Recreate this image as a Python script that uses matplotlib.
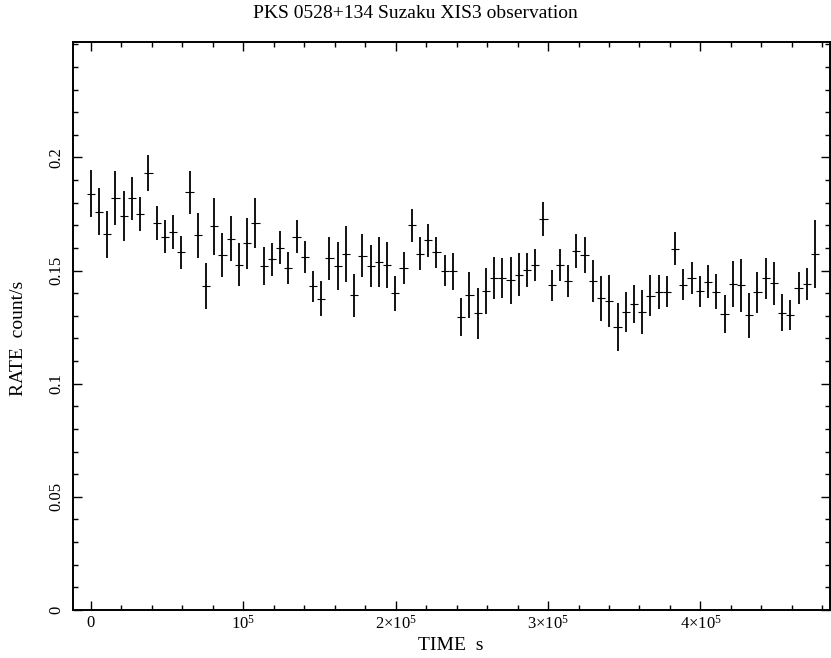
import numpy as np
import matplotlib
matplotlib.use("Agg")
import matplotlib.pyplot as plt
from matplotlib.ticker import MultipleLocator

plt.rcParams["font.family"] = ["Liberation Serif", "DejaVu Serif"]
plt.rcParams["mathtext.fontset"] = "custom"
plt.rcParams["mathtext.rm"] = "Liberation Serif"
plt.rcParams["mathtext.it"] = "Liberation Serif:italic"

# light curve bins (s), rate and 1-sigma error (count/s)
time = [
    0, 5400, 10800, 16200, 21600, 27000, 32400, 37800, 43200, 48600,
    54000, 59400, 64800, 70200, 75600, 81000, 86400, 91800, 97200, 102600,
    108000, 113400, 118800, 124200, 129600, 135000, 140400, 145800, 151200, 156600,
    162000, 167400, 172800, 178200, 183600, 189000, 194400, 199800, 205200, 210600,
    216000, 221400, 226800, 232200, 237600, 243000, 248400, 253800, 259200, 264600,
    270000, 275400, 280800, 286200, 291600, 297000, 302400, 307800, 313200, 318600,
    324000, 329400, 334800, 340200, 345600, 351000, 356400, 361800, 367200, 372600,
    378000, 383400, 388800, 394200, 399600, 405000, 410400, 415800, 421200, 426600,
    432000, 437400, 442800, 448200, 453600, 459000, 464400, 469800, 475200,
]
rate = [
    0.184, 0.176, 0.166, 0.182, 0.174, 0.182, 0.175, 0.193, 0.171, 0.165,
    0.167, 0.158, 0.1845, 0.1655, 0.143, 0.1696, 0.157, 0.164, 0.1525, 0.162,
    0.171, 0.152, 0.155, 0.160, 0.151, 0.165, 0.156, 0.143, 0.1376, 0.1555,
    0.152, 0.1574, 0.139, 0.1565, 0.152, 0.1537, 0.1524, 0.140, 0.151, 0.170,
    0.1575, 0.1634, 0.158, 0.150, 0.1497, 0.1294, 0.1392, 0.1311, 0.141, 0.1466,
    0.1466, 0.1457, 0.1482, 0.1503, 0.1524, 0.1729, 0.1435, 0.1525, 0.1454, 0.1586,
    0.1568, 0.1453, 0.1378, 0.1366, 0.125, 0.1317, 0.1353, 0.1317, 0.1389, 0.1406,
    0.1407, 0.1596, 0.1438, 0.1468, 0.1409, 0.1451, 0.1406, 0.1310, 0.1441, 0.1435,
    0.1302, 0.1404, 0.1465, 0.1444, 0.1313, 0.1304, 0.1423, 0.1440, 0.1572,
]
error = [
    0.0105, 0.0103, 0.0104, 0.012, 0.011, 0.0095, 0.0075, 0.008, 0.0074, 0.0074,
    0.0074, 0.0072, 0.0093, 0.0098, 0.0102, 0.0126, 0.0098, 0.0099, 0.0095, 0.0112,
    0.011, 0.0086, 0.0072, 0.0073, 0.007, 0.0074, 0.0072, 0.0068, 0.0079, 0.0095,
    0.0104, 0.0123, 0.0094, 0.0095, 0.0093, 0.011, 0.010, 0.0078, 0.007, 0.0074,
    0.0072, 0.0073, 0.007, 0.007, 0.0081, 0.0085, 0.010, 0.0114, 0.010, 0.0092,
    0.0089, 0.0104, 0.0095, 0.0074, 0.0071, 0.0075, 0.0069, 0.0072, 0.0069, 0.0076,
    0.0081, 0.0092, 0.010, 0.0115, 0.0105, 0.0087, 0.0085, 0.0099, 0.009, 0.0074,
    0.007, 0.0073, 0.007, 0.007, 0.0069, 0.0073, 0.0077, 0.0084, 0.0102, 0.0118,
    0.0099, 0.009, 0.0089, 0.0095, 0.0082, 0.0068, 0.007, 0.007, 0.015,
]
half_bin = 2700

xtick_vals = [0, 1e5, 2e5, 3e5, 4e5]
xtick_labels = ["0", r"$10^5$", r"$2{\times}10^5$", r"$3{\times}10^5$", r"$4{\times}10^5$"]
ytick_vals = [0, 0.05, 0.1, 0.15, 0.2]
ytick_labels = ["0", "0.05", "0.1", "0.15", "0.2"]

fig = plt.figure(figsize=(8.31, 6.58), dpi=100)
ax = fig.add_axes([72.5 / 831, 1 - 610 / 658, (830 - 72.5) / 831, (610 - 42) / 658])

ax.errorbar(time, rate, yerr=error, fmt="none", ecolor="k", elinewidth=1.3, capsize=0)
ax.errorbar(time, rate, xerr=half_bin, fmt="none", ecolor="k", elinewidth=0.8, capsize=0)

ax.set_xlim(-12000, 485000)
ax.set_ylim(0, 0.251)

ax.set_xticks(xtick_vals, labels=xtick_labels)
ax.set_yticks(ytick_vals, labels=ytick_labels)
ax.xaxis.set_minor_locator(MultipleLocator(2e4))
ax.yaxis.set_minor_locator(MultipleLocator(0.01))
ax.tick_params(which="both", direction="in", top=True, right=True, width=1.0)
ax.tick_params(which="major", length=6.5, labelsize=12)
ax.tick_params(which="minor", length=3.4)
ax.tick_params(axis="y", labelrotation=90, pad=6)
for lab in ax.get_yticklabels():
    lab.set_va("center")
for s in ax.spines.values():
    s.set_linewidth(1.4)

fig.text(0.5, 1 - 13 / 658, "PKS 0528+134 Suzaku XIS3 observation",
         ha="center", va="center", fontsize=14)
fig.text(451 / 831, 1 - 645 / 658, "TIME  s", ha="center", va="center", fontsize=14)
fig.text(19 / 831, 1 - 338 / 658, "RATE  count/s", ha="center", va="center",
         rotation=90, fontsize=14)

fig.savefig("out.png", dpi=100)
